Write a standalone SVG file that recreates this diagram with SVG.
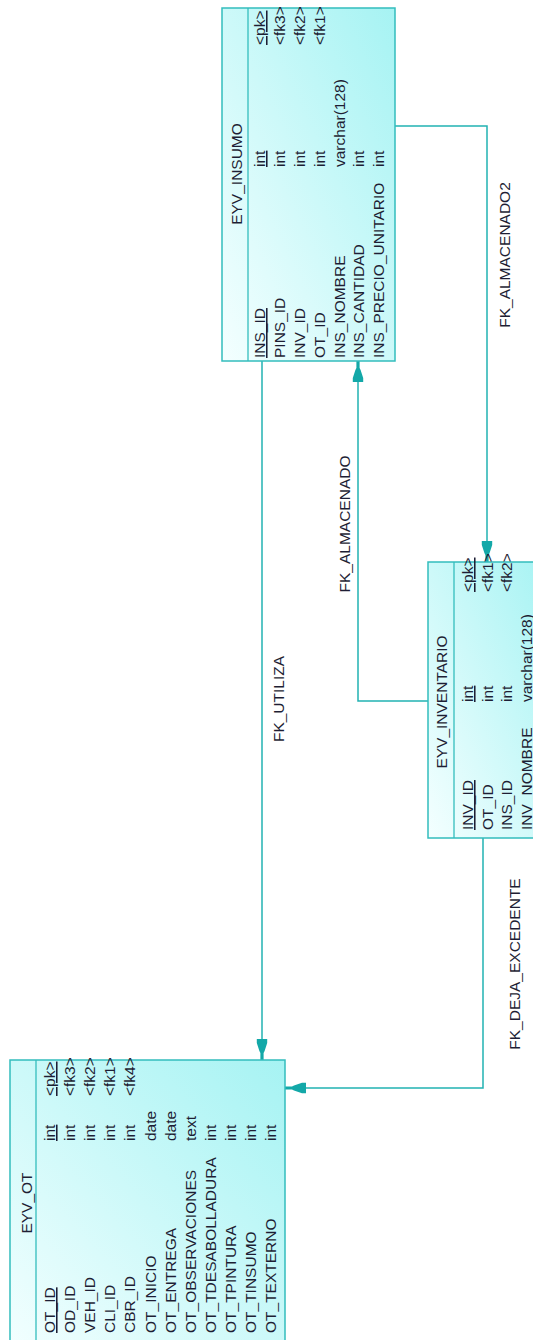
<svg xmlns="http://www.w3.org/2000/svg" width="533" height="1340" viewBox="0 0 533 1340">
<style>
.box{fill:url(#tblFill);stroke:#33bdbd;stroke-width:1.5}
.div{stroke:#33bdbd;stroke-width:1.3}
text{font-family:"Liberation Sans",Arial,sans-serif;font-size:15.5px;fill:#1e1e34}
.u{text-decoration:underline}
.mid{text-anchor:middle}
.conn{fill:none;stroke:#22b2b2;stroke-width:1.5;marker-end:url(#arr)}
</style>
<defs>
<linearGradient id="tblFill" x1="0" y1="1" x2="1" y2="0">
<stop offset="0" stop-color="#f4ffff"/>
<stop offset="1" stop-color="#a6f3f3"/>
</linearGradient>
<marker id="arr" markerUnits="userSpaceOnUse" markerWidth="22" markerHeight="12" viewBox="0 0 22 12" refX="21" refY="6" orient="auto">
<path d="M0,0.8 L4,0.8 L12,3.4 L14,4.4 L21,4.4 L21,7.6 L14,7.6 L12,8.6 L4,11.2 L0,11.2 Z" fill="#13a8a8"/>
</marker>
</defs>

<g id="connectors">
<path class="conn" d="M262,361 L262,1060"/>
<path class="conn" d="M428,701 L358,701 L358,361"/>
<path class="conn" d="M395,126 L487,126 L487,562"/>
<path class="conn" d="M483,838 L483,1088 L285,1088"/>
<g transform="rotate(-90)">
<text class="mid" x="-699" y="283.5">FK_UTILIZA</text>
<text class="mid" x="-524" y="349.5">FK_ALMACENADO</text>
<text class="mid" x="-255" y="510">FK_ALMACENADO2</text>
<text class="mid" x="-964" y="520">FK_DEJA_EXCEDENTE</text>
</g>
</g>

<g id="EYV_INSUMO">
<rect class="box" x="222" y="8" width="173" height="353"/>
<line class="div" x1="248" y1="8" x2="248" y2="361"/>
<g transform="rotate(-90)">
<text class="mid" x="-174" y="242">EYV_INSUMO</text>
<text x="-358" y="265" class="u">INS_ID</text>
<text x="-358" y="285">PINS_ID</text>
<text x="-358" y="305">INV_ID</text>
<text x="-358" y="325">OT_ID</text>
<text x="-358" y="345">INS_NOMBRE</text>
<text x="-358" y="364">INS_CANTIDAD</text>
<text x="-358" y="384">INS_PRECIO_UNITARIO</text>
<text x="-167" y="265" class="u">int</text>
<text x="-167" y="285">int</text>
<text x="-167" y="305">int</text>
<text x="-167" y="325">int</text>
<text x="-167" y="345">varchar(128)</text>
<text x="-167" y="364">int</text>
<text x="-167" y="384">int</text>
<text x="-45" y="265" class="u">&lt;pk&gt;</text>
<text x="-45" y="285">&lt;fk3&gt;</text>
<text x="-45" y="305">&lt;fk2&gt;</text>
<text x="-45" y="325">&lt;fk1&gt;</text>
</g>
</g>

<g id="EYV_INVENTARIO">
<rect class="box" x="428" y="562" width="120" height="276"/>
<line class="div" x1="454" y1="562" x2="454" y2="838"/>
<g transform="rotate(-90)">
<text class="mid" x="-702" y="447">EYV_INVENTARIO</text>
<text x="-830" y="473" class="u">INV_ID</text>
<text x="-830" y="492.5">OT_ID</text>
<text x="-830" y="512">INS_ID</text>
<text x="-830" y="532">INV_NOMBRE</text>
<text x="-702" y="473" class="u">int</text>
<text x="-702" y="492.5">int</text>
<text x="-702" y="512">int</text>
<text x="-702" y="532">varchar(128)</text>
<text x="-592" y="473" class="u">&lt;pk&gt;</text>
<text x="-592" y="492.5">&lt;fk1&gt;</text>
<text x="-592" y="512">&lt;fk2&gt;</text>
</g>
</g>

<g id="EYV_OT">
<rect class="box" x="10" y="1060" width="275" height="300"/>
<line class="div" x1="36" y1="1060" x2="36" y2="1360"/>
<g transform="rotate(-90)">
<text class="mid" x="-1203" y="32">EYV_OT</text>
<text x="-1333" y="55" class="u">OT_ID</text>
<text x="-1333" y="75.1">OD_ID</text>
<text x="-1333" y="95.2">VEH_ID</text>
<text x="-1333" y="115.3">CLI_ID</text>
<text x="-1333" y="135.4">CBR_ID</text>
<text x="-1333" y="155.5">OT_INICIO</text>
<text x="-1333" y="175.6">OT_ENTREGA</text>
<text x="-1333" y="195.7">OT_OBSERVACIONES</text>
<text x="-1333" y="215.8">OT_TDESABOLLADURA</text>
<text x="-1333" y="235.9">OT_TPINTURA</text>
<text x="-1333" y="256">OT_TINSUMO</text>
<text x="-1333" y="276.1">OT_TEXTERNO</text>
<text x="-1141" y="55" class="u">int</text>
<text x="-1141" y="75.1">int</text>
<text x="-1141" y="95.2">int</text>
<text x="-1141" y="115.3">int</text>
<text x="-1141" y="135.4">int</text>
<text x="-1141" y="155.5">date</text>
<text x="-1141" y="175.6">date</text>
<text x="-1141" y="195.7">text</text>
<text x="-1141" y="215.8">int</text>
<text x="-1141" y="235.9">int</text>
<text x="-1141" y="256">int</text>
<text x="-1141" y="276.1">int</text>
<text x="-1096" y="55" class="u">&lt;pk&gt;</text>
<text x="-1096" y="75.1">&lt;fk3&gt;</text>
<text x="-1096" y="95.2">&lt;fk2&gt;</text>
<text x="-1096" y="115.3">&lt;fk1&gt;</text>
<text x="-1096" y="135.4">&lt;fk4&gt;</text>
</g>
</g>
</svg>
